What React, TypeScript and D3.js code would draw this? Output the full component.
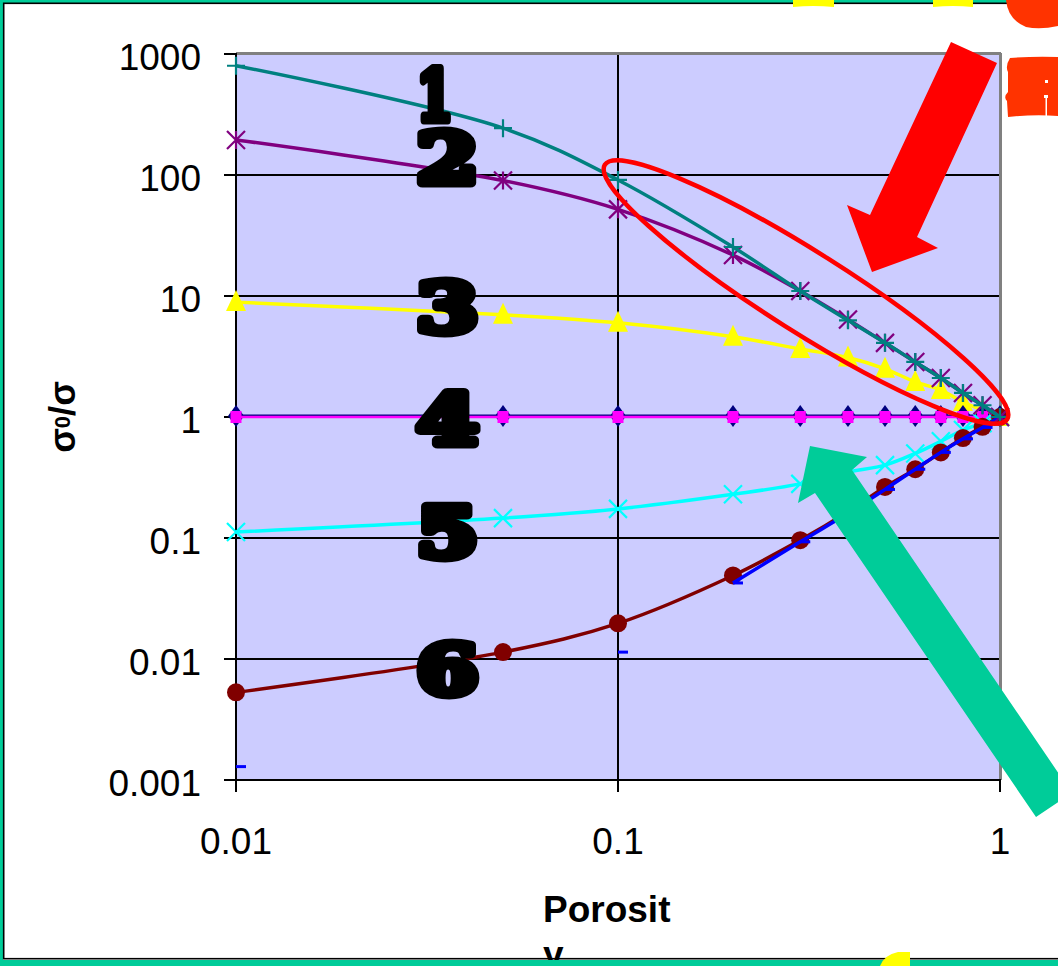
import React from "react";
import * as d3 from "d3";

// ---------- data ----------
const xs = [0.01, 0.05, 0.1, 0.2, 0.3, 0.4, 0.5, 0.6, 0.7, 0.8, 0.9, 1];

const series1 = [800, 244, 91, 25.4, 11, 6.3, 4.1, 2.85, 2.1, 1.58, 1.25, 1]; // teal +
const series2 = [195, 90, 52, 21.8, 11, 6.4, 4.1, 2.85, 2.1, 1.58, 1.25, 1]; // purple *
const series3 = [8.9, 7.0, 6.0, 4.6, 3.65, 3.1, 2.5, 1.95, 1.67, 1.33, 1.14, 1]; // yellow triangles
const series4a = [1.02, 1.02, 1.02, 1.02, 1.02, 1.02, 1.02, 1.02, 1.02, 1.02, 1.02, 1.02]; // navy diamonds
const series4b = [1.0, 1.0, 1.0, 1.0, 1.0, 1.0, 1.0, 1.0, 1.0, 1.0, 1.0, 1.0]; // magenta squares
const series5 = [0.112, 0.146, 0.174, 0.23, 0.28, 0.35, 0.4, 0.5, 0.63, 0.78, 0.89, 1]; // cyan x
const series6 = [0.0053, 0.0114, 0.0197, 0.049, 0.096, 0.165, 0.264, 0.37, 0.51, 0.67, 0.83, 1]; // maroon circles

const blueX = [0.01, 0.05, 0.1, 0.15, 0.2, 0.3, 0.4, 0.5, 0.6, 0.7, 0.8, 0.9, 1];
const blueY: (number | null)[] = [0.00129, null, 0.0114, null, 0.0425, 0.093, 0.16, 0.252, 0.37, 0.51, 0.66, 0.82, 1];

const yTicks = [1000, 100, 10, 1, 0.1, 0.01, 0.001];
const yTickLabels = ["1000", "100", "10", "1", "0.1", "0.01", "0.001"];
const xTicks = [0.01, 0.1, 1];
const xTickLabels = ["0.01", "0.1", "1"];

// big curve numbers (annotation positions in data coordinates)
const curveLabels = ["1", "2", "3", "4", "5", "6"];
const curveLabelY = [462, 137, 8.1, 0.96, 0.113, 0.0083];
const curveLabelX = 0.029;

// ---------- layout ----------
const W = 1058;
const H = 966;
const x = d3.scaleLog().domain([0.01, 1]).range([236, 1000]);
const y = d3.scaleLog().domain([0.001, 1000]).range([780, 54]);

const lineGen = d3
  .line<[number, number | null]>()
  .defined((d) => d[1] !== null)
  .x((d) => x(d[0]))
  .y((d) => y(d[1] as number))
  .curve(d3.curveCatmullRom.alpha(0.5));

const pts = (vals: (number | null)[], xv: number[] = xs) =>
  xv.map((xx, i) => [xx, vals[i]] as [number, number | null]);

const GREEN = "#00CC99";
const LW = 3.5;

function Plus({ cx, cy, c }: any) {
  const s = 9;
  return <path d={`M${cx - s},${cy}H${cx + s}M${cx},${cy - s}V${cy + s}`} stroke={c} strokeWidth={2.2} fill="none" />;
}
function Star({ cx, cy, c }: any) {
  const s = 9;
  return (
    <path
      d={`M${cx - s},${cy - s}L${cx + s},${cy + s}M${cx - s},${cy + s}L${cx + s},${cy - s}M${cx},${cy - s}V${cy + s}`}
      stroke={c}
      strokeWidth={2.2}
      fill="none"
    />
  );
}
function Cross({ cx, cy, c }: any) {
  const s = 9;
  return (
    <path d={`M${cx - s},${cy - s}L${cx + s},${cy + s}M${cx - s},${cy + s}L${cx + s},${cy - s}`} stroke={c} strokeWidth={2.2} fill="none" />
  );
}

export default function App() {
  const digitFont = "'DejaVu Serif', serif";
  return (
    <svg
      width={W}
      height={H}
      style={{ position: "absolute", left: 0, top: 0, background: "#fff" }}
      fontFamily="'Liberation Sans', Arial, sans-serif"
    >
      <rect x={0} y={0} width={W} height={H} fill="#fff" />
      {/* plot area */}
      <rect x={236} y={54} width={764} height={726} fill="#CCCCFF" />
      {/* gridlines */}
      {yTicks.map((t) => (
        <line key={"gy" + t} x1={224} x2={1000} y1={y(t)} y2={y(t)} stroke="#000" strokeWidth={2} />
      ))}
      {xTicks.map((t) => (
        <line key={"gx" + t} x1={x(t)} x2={x(t)} y1={54} y2={792} stroke="#000" strokeWidth={2} />
      ))}
      {/* plot border top/right */}
      <line x1={236} x2={1001} y1={53.5} y2={53.5} stroke="#808080" strokeWidth={3} />
      <line x1={1000.5} x2={1000.5} y1={53} y2={780} stroke="#808080" strokeWidth={3} />
      {/* axes */}
      <line x1={236} x2={236} y1={53} y2={792} stroke="#000" strokeWidth={2} />
      <line x1={224} x2={1001} y1={780} y2={780} stroke="#000" strokeWidth={2} />
      <line x1={1000} x2={1000} y1={780} y2={792} stroke="#000" strokeWidth={2} />

      {/* series 3 yellow */}
      <path d={lineGen(pts(series3)) || ""} stroke="#FFFF00" strokeWidth={LW} fill="none" />
      {xs.map((xx, i) => {
        const cx = x(xx), cy = y(series3[i]);
        return <path key={"t" + i} d={`M${cx},${cy - 12}L${cx + 10},${cy + 9}L${cx - 10},${cy + 9}Z`} fill="#FFFF00" />;
      })}
      {/* series 4 navy */}
      <path d={lineGen(pts(series4a)) || ""} stroke="#000080" strokeWidth={3} fill="none" />
      {xs.map((xx, i) => {
        const cx = x(xx), cy = y(series4a[i]);
        return <path key={"d" + i} d={`M${cx},${cy - 11}L${cx + 8},${cy}L${cx},${cy + 11}L${cx - 8},${cy}Z`} fill="#000080" />;
      })}
      {/* series 4 magenta */}
      <path d={lineGen(pts(series4b)) || ""} stroke="#FF00FF" strokeWidth={2.5} fill="none" />
      {xs.map((xx, i) => {
        const cx = x(xx), cy = y(series4b[i]);
        return <rect key={"s" + i} x={cx - 5.5} y={cy - 6} width={11} height={12} fill="#FF00FF" />;
      })}
      {/* series 5 cyan */}
      <path d={lineGen(pts(series5)) || ""} stroke="#00FFFF" strokeWidth={LW} fill="none" />
      {xs.map((xx, i) => (
        <Cross key={"c" + i} cx={x(xx)} cy={y(series5[i])} c="#00FFFF" />
      ))}
      {/* series 6 maroon */}
      <path d={lineGen(pts(series6)) || ""} stroke="#800000" strokeWidth={LW} fill="none" />
      {xs.map((xx, i) => (
        <circle key={"m" + i} cx={x(xx)} cy={y(series6[i])} r={9} fill="#800000" />
      ))}
      {/* series 7 blue */}
      <path d={lineGen(pts(blueY, blueX)) || ""} stroke="#0000FF" strokeWidth={LW} fill="none" />
      {blueX.map((xx, i) =>
        blueY[i] === null ? null : (
          <rect key={"b" + i} x={x(xx)} y={y(blueY[i] as number) - 1.5} width={10} height={3} fill="#0000FF" />
        )
      )}
      {/* series 2 purple */}
      <path d={lineGen(pts(series2)) || ""} stroke="#800080" strokeWidth={LW} fill="none" />
      {xs.map((xx, i) => (
        <Star key={"p" + i} cx={x(xx)} cy={y(series2[i])} c="#800080" />
      ))}
      {/* series 1 teal */}
      <path d={lineGen(pts(series1)) || ""} stroke="#008080" strokeWidth={LW} fill="none" />
      {xs.map((xx, i) => (
        <Plus key={"q" + i} cx={x(xx)} cy={y(series1[i])} c="#008080" />
      ))}

      {/* big curve numbers */}
      {curveLabels.map((l, i) => (
        <text
          key={"L" + l}
          x={x(curveLabelX) + 4}
          y={y(curveLabelY[i]) + 25}
          fontFamily={digitFont}
          fontWeight="bold"
          fontSize={70}
          fill="#000"
          stroke="#000"
          strokeWidth={9}
          strokeLinejoin="round"
          textLength={l === "1" ? 36 : 62}
          lengthAdjust="spacingAndGlyphs"
        >
          {l}
        </text>
      ))}

      {/* red ellipse */}
      <ellipse cx={806} cy={292} rx={238} ry={40} transform="rotate(32.3 806 292)" fill="none" stroke="#FF0000" strokeWidth={4.5} />
      {/* red arrow */}
      <path d="M872,272L847,205L870,215L951,42L997,63L917,237L938,248Z" fill="#FF0000" />
      {/* green arrow */}
      <path d="M810,446L867,457L852,470L1072,793L1036,817L815,493L798,503Z" fill={GREEN} />

      {/* tick labels */}
      {yTicks.map((t, i) => (
        <text key={"yl" + t} x={201} y={y(t) + 16} textAnchor="end" fontSize={37} fill="#000">
          {yTickLabels[i]}
        </text>
      ))}
      {xTicks.map((t, i) => (
        <text key={"xl" + t} x={x(t)} y={854} textAnchor="middle" fontSize={37} fill="#000">
          {xTickLabels[i]}
        </text>
      ))}
      {/* axis titles */}
      <text x={543} y={922} fontSize={37} fontWeight="bold" fill="#000">
        Porosit
      </text>
      <text x={543} y={967} fontSize={37} fontWeight="bold" fill="#000">
        y
      </text>
      <text transform="translate(75,417) rotate(-90)" textAnchor="middle" fontSize={36} fontWeight="bold" fill="#000">
        σ<tspan fontSize={22} dy={-5}>0</tspan>
        <tspan dy={5}>/σ</tspan>
      </text>

      {/* slide frame */}
      <rect x={0} y={0} width={1100} height={963} fill="none" stroke={GREEN} strokeWidth={6} />
      <rect x={3.7} y={3.3} width={1100} height={955.4} fill="none" stroke="#000" strokeWidth={1.6} />

      {/* cut-off slide decorations */}
      <path d="M793,0H834V7Q813,5 793,7Z" fill="#FFFF00" />
      <path d="M933,0H973V7Q953,5 933,7Z" fill="#FFFF00" />
      <path d="M1006,0H1058V26Q1040,30 1026,27Q1008,20 1006,0Z" fill="#FF3300" />
      <path d="M1010,58Q1035,56 1058,57V116Q1035,114 1008,117L1007,101Q1003,97 1008,92V72Q1005,66 1010,58Z" fill="#FF3300" />
      <rect x={1045} y={80} width={3} height={3} fill="#fff" />
      <rect x={1044} y={95} width={4} height={3} fill="#fff" />
      <rect x={1045.5} y={98} width={1.5} height={18} fill="#fff" />
      <path d="M880,966Q884,955 898,952H910V966Z" fill="#FFFF00" />
    </svg>
  );
}
